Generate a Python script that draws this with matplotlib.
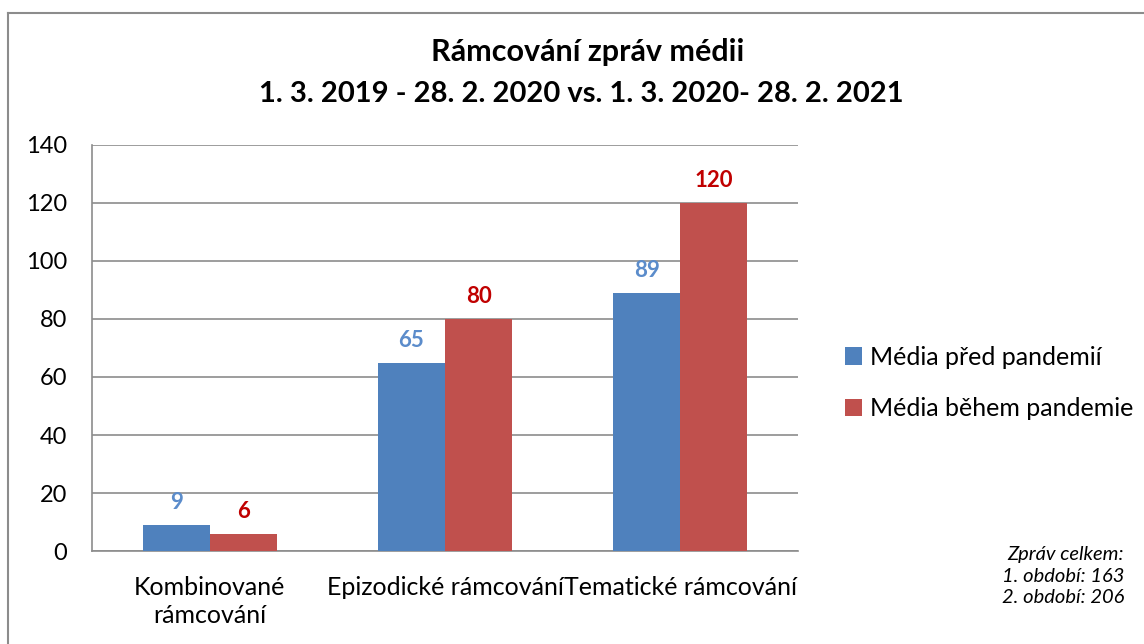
import numpy as np
import matplotlib
matplotlib.use("Agg")
import matplotlib.pyplot as plt
from matplotlib.lines import Line2D

plt.rcParams["font.family"] = ["Lato", "DejaVu Sans"]

categories = ["Kombinované\nrámcování", "Epizodické rámcování", "Tematické rámcování"]
pred = [9, 65, 89]
behem = [6, 80, 120]
series_names = ["Média před pandemií", "Média během pandemie"]
yticks = [0, 20, 40, 60, 80, 100, 120, 140]

BLUE = "#4F81BD"
RED = "#C0504D"
BLUE_TXT = "#5B8CCB"
RED_TXT = "#C00000"
GRID = "#8C8C8C"

fig = plt.figure(figsize=(11.44, 6.44), dpi=100)
fig.patch.set_facecolor("white")
# chart frame: only the left and top edges are visible in the crop
fig.lines.append(Line2D([8 / 1144, 8 / 1144], [0, 1 - 13 / 644],
                        transform=fig.transFigure, color="#8C8C8C", lw=1.5))
fig.lines.append(Line2D([8 / 1144, 1], [1 - 13 / 644, 1 - 13 / 644],
                        transform=fig.transFigure, color="#8C8C8C", lw=1.5))

ax = fig.add_axes([92 / 1144, 1 - 551 / 644, 706 / 1144, 406 / 644])
x = np.arange(len(categories))
w = 0.285
b1 = ax.bar(x - w / 2, pred, w, color=BLUE, label=series_names[0], zorder=3)
b2 = ax.bar(x + w / 2, behem, w, color=RED, label=series_names[1], zorder=3)

for bar, val in zip(b1, pred):
    ax.text(bar.get_x() + bar.get_width() / 2, val + 4, str(val),
            ha="center", va="bottom", fontsize=16, fontweight="bold", color=BLUE_TXT)
for bar, val in zip(b2, behem):
    ax.text(bar.get_x() + bar.get_width() / 2, val + 4, str(val),
            ha="center", va="bottom", fontsize=16, fontweight="bold", color=RED_TXT)

ax.set_xlim(-0.5, 2.5)
ax.set_ylim(0, 140)
ax.set_yticks(yticks)
ax.set_yticklabels([str(t) for t in yticks], fontsize=17)
ax.set_xticks(x)
ax.set_xticklabels(categories, fontsize=18, linespacing=1.25)
ax.tick_params(axis="y", length=0, pad=18)
ax.tick_params(axis="x", length=0, pad=18)
ax.yaxis.grid(True, color=GRID, lw=1.2, zorder=0)
ax.set_axisbelow(True)
for s in ["top", "right"]:
    ax.spines[s].set_visible(False)
ax.spines["left"].set_color(GRID)
ax.spines["left"].set_linewidth(1.2)
ax.spines["bottom"].set_color(GRID)
ax.spines["bottom"].set_linewidth(1.2)

fig.text(588 / 1144, 1 - 52 / 644, "Rámcování zpráv médii", ha="center", va="center",
         fontsize=22, fontweight="bold")
fig.text(581 / 1144, 1 - 94 / 644, "1. 3. 2019 - 28. 2. 2020 vs. 1. 3. 2020- 28. 2. 2021",
         ha="center", va="center", fontsize=21, fontweight="bold")

fig.legend(handles=[b1, b2], labels=series_names, loc="center left",
           bbox_to_anchor=(822 / 1144, 1 - 383 / 644), frameon=False,
           fontsize=18, handlelength=0.7, handleheight=0.7, handletextpad=0.3,
           labelspacing=1.15)

fig.text(1124 / 1144, 1 - 576 / 644, "Zpráv celkem:\n1. období: 163\n2. období: 206",
         ha="right", va="center", fontsize=14.5, style="italic", linespacing=1.3)

plt.savefig("out.png", dpi=100, facecolor="white")
plt.close()
